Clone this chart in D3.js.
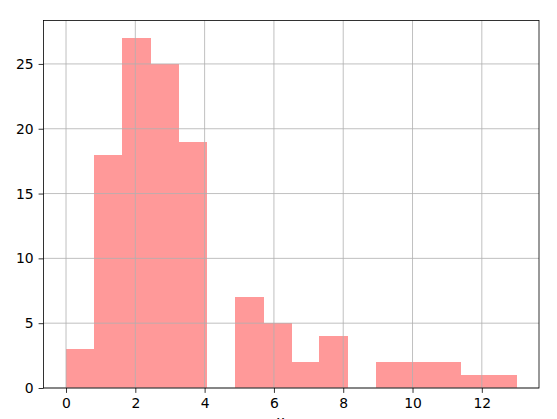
<!DOCTYPE html>
<html>
<head>
<style>
  body { margin: 0; background: #fff; }
  text { font-family: "DejaVu Sans", sans-serif; font-size: 13.9px; fill: #000; }
  .grid line { stroke: #b0b0b0; stroke-width: 0.8px; }
</style>
</head>
<body>
<div id="chart"></div>
<script src="https://d3js.org/d3.v7.min.js"></script>
<script>
// histogram bins (16 equal bins over 0..13) and their counts
var binStart = 0, binEnd = 13, nBins = 16;
var counts = [3, 18, 27, 25, 19, 0, 7, 5, 2, 4, 0, 2, 2, 2, 1, 1];
var xTicks = [0, 2, 4, 6, 8, 10, 12];
var yTicks = [0, 5, 10, 15, 20, 25];

var width = 557, height = 419;
var margin = {left: 43.5, right: 18, top: 20.5, bottom: 31};

var svg = d3.select("#chart").append("svg")
    .attr("width", width).attr("height", height);

var step = (binEnd - binStart) / nBins;
var bins = counts.map(function(c, i) {
  return {x0: binStart + i * step, x1: binStart + (i + 1) * step, n: c};
});

var pad = (binEnd - binStart) * 0.05;
var x = d3.scaleLinear().domain([binStart - pad, binEnd + pad])
    .range([margin.left, width - margin.right]);
var yMax = d3.max(counts) * 1.05;
var y = d3.scaleLinear().domain([0, yMax])
    .range([height - margin.bottom, margin.top]);

// bars
svg.append("g").attr("shape-rendering", "crispEdges").selectAll("rect")
  .data(bins.filter(function(d) { return d.n > 0; }))
  .enter().append("rect")
    .attr("x", function(d) { return x(d.x0); })
    .attr("width", function(d) { return x(d.x1) - x(d.x0) + 0.5; })
    .attr("y", function(d) { return y(d.n); })
    .attr("height", function(d) { return y(0) - y(d.n); })
    .attr("fill", "#ff9999");

// grid on top of bars, like plt.grid()
var grid = svg.append("g").attr("class", "grid");
grid.selectAll("line.v").data(xTicks).enter().append("line")
    .attr("x1", function(d) { return x(d); }).attr("x2", function(d) { return x(d); })
    .attr("y1", y(0)).attr("y2", y(yMax));
grid.selectAll("line.h").data(yTicks).enter().append("line")
    .attr("y1", function(d) { return y(d); }).attr("y2", function(d) { return y(d); })
    .attr("x1", x.range()[0]).attr("x2", x.range()[1]);

// axes
var xAxis = d3.axisBottom(x).tickValues(xTicks).tickSize(4.9).tickPadding(4.9);
var yAxis = d3.axisLeft(y).tickValues(yTicks).tickSize(4.9).tickPadding(4.9);

svg.append("g").attr("transform", "translate(0," + y(0) + ")").call(xAxis)
   .call(function(g) { g.select(".domain").remove(); });
svg.append("g").attr("transform", "translate(" + x.range()[0] + ",0)").call(yAxis)
   .call(function(g) { g.select(".domain").remove(); });

svg.selectAll(".tick line").attr("stroke", "#000").attr("stroke-width", 0.8);
svg.selectAll(".tick text").style("font-family", "DejaVu Sans").style("font-size", "13.9px");

// frame
svg.append("rect")
    .attr("x", x.range()[0]).attr("y", y.range()[1])
    .attr("width", x.range()[1] - x.range()[0])
    .attr("height", y.range()[0] - y.range()[1])
    .attr("fill", "none").attr("stroke", "#000").attr("stroke-width", 0.8);

// x label, mostly clipped by the bottom edge as in the original
svg.append("text")
    .attr("x", 280.5)
    .attr("y", 425.5)
    .attr("text-anchor", "middle")
    .text("x");
</script>
</body>
</html>
